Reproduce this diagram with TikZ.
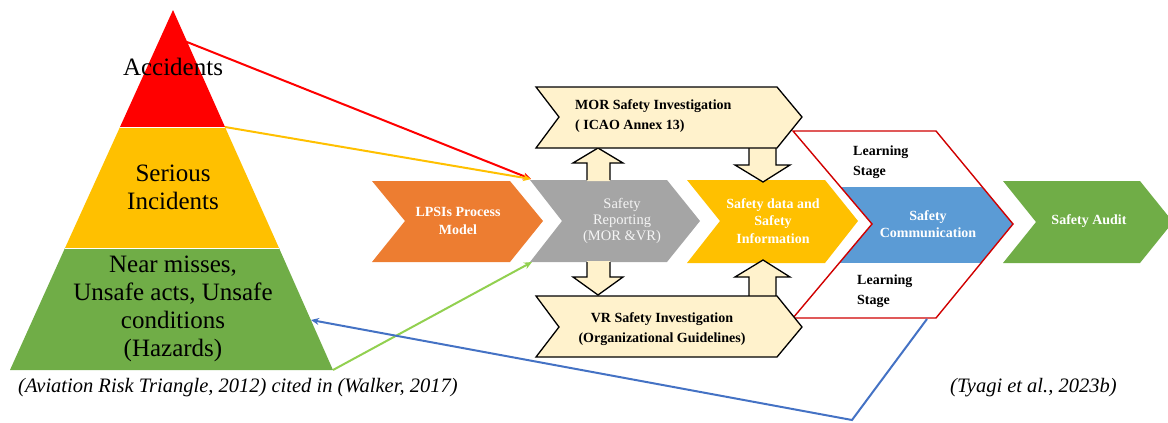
\documentclass[tikz,border=0pt]{standalone}
\usepackage{fontspec}
\setmainfont{Liberation Serif}
\usetikzlibrary{arrows.meta}
\definecolor{cRed}{HTML}{FF0000}
\definecolor{cYel}{HTML}{FFC000}
\definecolor{cGrn}{HTML}{70AD47}
\definecolor{cOra}{HTML}{ED7D31}
\definecolor{cGry}{HTML}{A5A5A5}
\definecolor{cBlu}{HTML}{5B9BD5}
\definecolor{cPale}{HTML}{FFF2CC}
\definecolor{cOut}{HTML}{D00000}
\definecolor{cLine}{HTML}{4472C4}
\definecolor{cLGrn}{HTML}{92D050}
\definecolor{cLYel}{HTML}{FFC000}
\begin{document}
\begin{tikzpicture}[x=1pt,y=-1pt,
  band/.style={draw=white,line width=0.8pt},
  pyrtxt/.style={font=\fontsize{25}{28}\selectfont,align=center,text=black,inner sep=0pt},
  chevtxt/.style={font=\fontsize{14}{17.5}\selectfont\bfseries,align=center,text=white,inner sep=0pt},
  boxtxt/.style={font=\fontsize{14}{20}\selectfont\bfseries,text=black,inner sep=0pt},
  pale/.style={fill=cPale,draw=black,line width=1.3pt,line join=miter},
  conn/.style={line width=2pt,-{Stealth[length=8pt,width=7pt]}},
  captxt/.style={font=\fontsize{20.5}{22}\selectfont\itshape,inner sep=0pt}]
\useasboundingbox (0,0) rectangle (1168,423);
\begin{scope}
\clip (0,0) rectangle (1168,423);
% pyramid
\fill[cRed] (173,10) -- (225,127) -- (120,127) -- cycle;
\fill[cYel] (120,127) -- (225,127) -- (279,248) -- (65,248) -- cycle;
\fill[cGrn] (65,248) -- (279,248) -- (333,370) -- (10,370) -- cycle;
\draw[band] (120,127) -- (225,127);
\draw[band] (65,248) -- (279,248);
\coordinate (pRed) at (187,42);
\coordinate (pYel) at (225,127);
\coordinate (pGrn) at (333,370);
\coordinate (pBlu) at (311,320);
\node[pyrtxt] (acc) at (173,67) {Accidents};
\node[pyrtxt] (ser) at (173,187) {Serious\\Incidents};
\node[pyrtxt] (near) at (173,309) {Near misses,\\Unsafe acts, Unsafe\\conditions\\(Hazards)};
% chevrons
\fill[cOra] (372,181) -- (510,181) -- (543,221) -- (510,262) -- (372,262) -- (405,221) -- cycle;
\fill[cGry] (530,180) -- (667,180) -- (700,221) -- (667,262) -- (530,262) -- (562,221) -- cycle;
\fill[cYel] (687,180) -- (825,180) -- (858,221) -- (825,263) -- (687,263) -- (720,221) -- cycle;
\fill[cGrn] (1003,181) -- (1140,181) -- (1173,222) -- (1140,263) -- (1003,263) -- (1036,222) -- cycle;
\begin{scope}
\clip (780,187) rectangle (1020,262);
\fill[cBlu] (793,131) -- (936,131) -- (1013,224) -- (936,318) -- (793,318) -- (872,224) -- cycle;
\end{scope}
\draw[cOut,line width=1.4pt] (793,131) -- (936,131) -- (1013,224) -- (936,318) -- (793,318) -- (872,224) -- cycle;
\coordinate (gTL) at (531,179);
\coordinate (gBL) at (532,262);
\coordinate (oBot) at (927,319);
\coordinate (bend) at (852,420);
\node[chevtxt] (lpsi) at (458,221) {LPSIs Process\\Model};
\node[chevtxt,font=\fontsize{14.5}{16}\selectfont,text={rgb,255:red,245;green,245;blue,245}] (rep) at (622,221) {Safety\\Reporting\\(MOR \&VR)};
\node[chevtxt] (sdata) at (773,221) {Safety data and\\Safety\\Information};
\node[chevtxt] (comm) at (928,224) {Safety\\Communication};
\node[chevtxt] (audit) at (1089,221) {Safety Audit};
\node[boxtxt,align=left,anchor=north west] (ls1) at (853,146) {Learning\\Stage};
\node[boxtxt,align=left,anchor=north west] (ls2) at (857,275) {Learning\\Stage};
% block arrows
\fill[cPale] (587,181) -- (587,163) -- (573,163) -- (598,148) -- (623,163) -- (610,163) -- (610,181) -- cycle;
\draw[black,line width=1.3pt] (587,180) -- (587,163) -- (573,163) -- (598,148) -- (623,163) -- (610,163) -- (610,180);
\fill[cPale] (587,261) -- (587,277) -- (573,277) -- (598,295) -- (623,277) -- (610,277) -- (610,261) -- cycle;
\draw[black,line width=1.3pt] (587,262) -- (587,277) -- (573,277) -- (598,295) -- (623,277) -- (610,277) -- (610,262);
\fill[cPale] (749,147) -- (749,165) -- (735,165) -- (763,182) -- (790,165) -- (776,165) -- (776,147) -- cycle;
\draw[black,line width=1.3pt] (749,148) -- (749,165) -- (735,165) -- (763,182) -- (790,165) -- (776,165) -- (776,148);
\fill[cPale] (749,297) -- (749,277) -- (735,277) -- (763,260) -- (790,277) -- (776,277) -- (776,297) -- cycle;
\draw[black,line width=1.3pt] (749,296) -- (749,277) -- (735,277) -- (763,260) -- (790,277) -- (776,277) -- (776,296);
% pale boxes
\draw[pale] (536,87) -- (777,87) -- (802,117) -- (777,148) -- (536,148) -- (559,117) -- cycle;
\draw[pale] (536,296) -- (777,296) -- (802,327) -- (777,357) -- (536,357) -- (559,327) -- cycle;
\node[boxtxt,align=left,anchor=west] (mor) at (575,116) {MOR Safety Investigation\\( ICAO Annex 13)};
\node[boxtxt,align=center] (vr) at (662,329) {VR Safety Investigation\\(Organizational Guidelines)};
% connectors
\draw[conn,cRed] (pRed) -- (gTL);
\draw[conn,cLYel] (pYel) -- (gTL);
\draw[conn,cLGrn] (pGrn) -- (gBL);
\draw[conn,cLine] (oBot) -- (bend) -- (pBlu);
% captions
\node[captxt,anchor=west] (cap1) at (18,388) {(Aviation Risk Triangle, 2012) cited in (Walker, 2017)};
\node[captxt,anchor=west] (cap2) at (950,388) {(Tyagi et al., 2023b)};
\end{scope}
\end{tikzpicture}
\end{document}
